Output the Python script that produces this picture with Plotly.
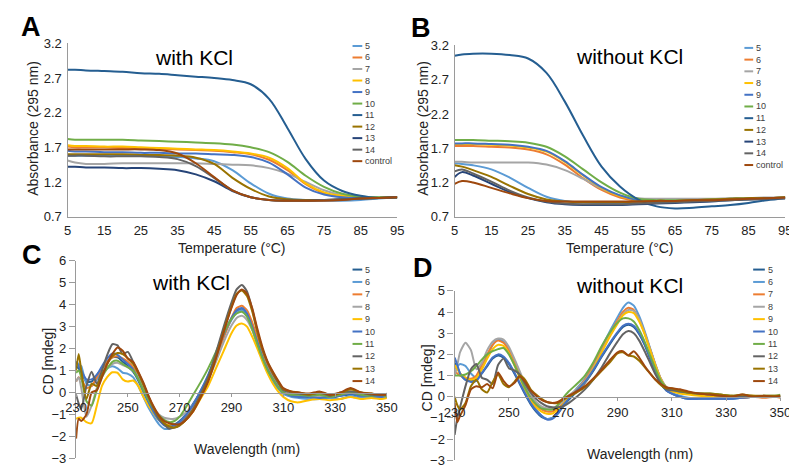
import plotly.graph_objects as go

# ---------------- DATA ----------------
temps = [5, 7, 10, 15, 20, 25, 30, 35, 40, 45, 50, 55, 60, 65, 70, 75, 80, 85, 90, 95]
melt_names = ["5", "6", "7", "8", "9", "10", "11", "12", "13", "14", "control"]
melt_colors = ["#5B9BD5", "#ED7D31", "#A5A5A5", "#FFC000", "#4472C4", "#70AD47",
               "#255E91", "#997300", "#264478", "#636363", "#9E480E"]

abs_with_kcl = {
    "5":  [1.58,1.58,1.58,1.58,1.58,1.58,1.57,1.56,1.54,1.50,1.37,1.18,1.03,0.96,0.94,0.93,0.93,0.94,0.96,0.98],
    "6":  [1.71,1.70,1.70,1.70,1.69,1.69,1.68,1.67,1.66,1.65,1.63,1.60,1.52,1.37,1.17,1.04,0.99,0.97,0.97,0.98],
    "7":  [1.51,1.48,1.46,1.46,1.47,1.47,1.47,1.47,1.47,1.46,1.45,1.44,1.40,1.32,1.20,1.08,1.01,0.98,0.98,0.98],
    "8":  [1.73,1.72,1.72,1.71,1.71,1.70,1.69,1.68,1.67,1.66,1.64,1.61,1.55,1.40,1.18,1.05,1.00,0.98,0.97,0.98],
    "9":  [1.65,1.64,1.64,1.63,1.63,1.62,1.62,1.61,1.61,1.60,1.59,1.56,1.48,1.31,1.12,1.02,0.98,0.97,0.97,0.98],
    "10": [1.82,1.81,1.81,1.81,1.81,1.80,1.79,1.78,1.77,1.76,1.74,1.70,1.63,1.49,1.29,1.13,1.03,0.99,0.98,0.98],
    "11": [2.82,2.82,2.81,2.80,2.79,2.77,2.76,2.74,2.72,2.70,2.67,2.61,2.40,1.98,1.53,1.22,1.07,1.00,0.97,0.98],
    "12": [1.60,1.60,1.60,1.60,1.60,1.59,1.59,1.58,1.55,1.46,1.26,1.10,0.99,0.95,0.94,0.94,0.95,0.96,0.97,0.98],
    "13": [1.42,1.42,1.41,1.41,1.40,1.40,1.39,1.37,1.31,1.21,1.07,0.98,0.94,0.93,0.93,0.94,0.95,0.96,0.97,0.98],
    "14": [1.58,1.58,1.58,1.57,1.57,1.57,1.56,1.53,1.43,1.26,1.08,0.98,0.94,0.93,0.93,0.94,0.95,0.96,0.97,0.98],
    "control": [1.67,1.67,1.67,1.67,1.67,1.67,1.66,1.61,1.47,1.27,1.08,0.98,0.94,0.93,0.93,0.93,0.94,0.96,0.97,0.98],
}

abs_without_kcl = {
    "5":  [1.48,1.47,1.45,1.39,1.27,1.12,0.99,0.93,0.91,0.90,0.90,0.91,0.92,0.93,0.94,0.95,0.96,0.97,0.97,0.98],
    "6":  [1.73,1.73,1.73,1.72,1.71,1.68,1.61,1.46,1.26,1.09,0.98,0.93,0.92,0.93,0.93,0.94,0.95,0.96,0.97,0.98],
    "7":  [1.50,1.50,1.49,1.49,1.49,1.49,1.46,1.38,1.25,1.11,1.01,0.97,0.96,0.96,0.96,0.96,0.97,0.97,0.98,0.98],
    "8":  [1.76,1.76,1.76,1.75,1.74,1.71,1.65,1.50,1.30,1.12,1.00,0.94,0.92,0.92,0.93,0.94,0.95,0.96,0.97,0.98],
    "9":  [1.77,1.77,1.77,1.76,1.75,1.72,1.66,1.51,1.31,1.13,1.01,0.94,0.92,0.92,0.93,0.94,0.95,0.96,0.97,0.98],
    "10": [1.82,1.82,1.82,1.81,1.80,1.78,1.72,1.58,1.39,1.20,1.05,0.96,0.94,0.94,0.94,0.95,0.96,0.97,0.97,0.98],
    "11": [3.05,3.07,3.08,3.08,3.06,3.01,2.80,2.38,1.88,1.43,1.14,0.95,0.85,0.82,0.83,0.85,0.87,0.90,0.94,0.97],
    "12": [1.45,1.43,1.38,1.28,1.15,1.03,0.95,0.92,0.91,0.91,0.91,0.92,0.93,0.93,0.94,0.95,0.96,0.97,0.97,0.98],
    "13": [1.28,1.35,1.30,1.18,1.06,0.97,0.91,0.88,0.87,0.87,0.87,0.88,0.89,0.90,0.91,0.92,0.94,0.95,0.96,0.97],
    "14": [1.36,1.39,1.33,1.21,1.08,0.98,0.92,0.89,0.88,0.88,0.88,0.89,0.90,0.91,0.92,0.93,0.94,0.95,0.96,0.97],
    "control": [1.18,1.22,1.20,1.12,1.04,0.97,0.93,0.92,0.92,0.92,0.92,0.92,0.93,0.93,0.94,0.94,0.95,0.96,0.97,0.98],
}

wavelengths = [230,231,232,234,236,238,240,242,244,246,248,250,252,254,256,258,260,262,264,266,
               268,270,272,275,278,281,284,287,290,292,294,296,298,300,302,304,306,308,310,313,
               316,320,324,328,332,336,340,344,348,350]
cd_names = ["5", "6", "7", "8", "9", "10", "11", "12", "13", "14"]
cd_colors = ["#255E91", "#5B9BD5", "#ED7D31", "#A5A5A5", "#FFC000", "#4472C4",
             "#70AD47", "#636363", "#997300", "#9E480E"]

cd_with_kcl = {
    "5":  [1.2,1.1,0.9,0.5,0.5,0.8,1.1,1.4,1.6,1.6,1.4,1.2,0.95,0.55,0.05,-0.45,-0.9,-1.25,-1.45,-1.5,
           -1.45,-1.3,-1.05,-0.55,0.05,0.75,1.65,2.6,3.35,3.7,3.8,3.55,2.95,2.25,1.55,1.0,0.55,0.2,-0.05,-0.15,
           -0.2,-0.25,-0.2,-0.25,-0.15,-0.1,-0.2,-0.15,-0.2,-0.2],
    "6":  [1.4,1.3,1.2,0.4,0.3,0.6,0.9,1.1,1.2,1.1,0.9,0.85,0.7,0.3,-0.2,-0.7,-1.1,-1.45,-1.65,-1.65,
           -1.55,-1.35,-1.1,-0.6,0.05,0.75,1.6,2.55,3.3,3.65,3.75,3.5,2.9,2.2,1.5,0.95,0.5,0.2,-0.05,-0.2,
           -0.25,-0.3,-0.3,-0.25,-0.3,-0.15,-0.25,-0.2,-0.25,-0.2],
    "7":  [0.5,0.7,0.6,0.2,0.3,0.7,1.1,1.4,1.6,1.65,1.55,1.4,1.15,0.75,0.25,-0.3,-0.8,-1.15,-1.4,-1.5,
           -1.5,-1.4,-1.2,-0.75,-0.1,0.6,1.5,2.5,3.4,3.85,3.95,3.75,3.2,2.5,1.8,1.2,0.75,0.4,0.1,-0.1,
           -0.1,-0.15,-0.1,-0.15,-0.05,0.05,-0.1,-0.1,-0.15,-0.1],
    "8":  [0.5,0.7,0.2,-1.1,-0.6,0.2,0.8,1.1,1.3,1.35,1.25,1.15,1.0,0.7,0.25,-0.25,-0.7,-1.0,-1.15,-1.2,
           -1.2,-1.1,-0.95,-0.6,-0.05,0.6,1.4,2.3,3.05,3.4,3.5,3.3,2.85,2.25,1.6,1.05,0.65,0.3,0.05,-0.1,
           -0.15,-0.15,-0.2,-0.2,-0.1,0.0,-0.15,-0.1,-0.2,-0.15],
    "9":  [-1.2,-1.15,-1.15,-1.35,-1.4,-0.6,0.3,0.7,0.92,0.9,0.6,0.5,0.55,0.3,-0.2,-0.6,-0.95,-1.25,-1.45,-1.5,
           -1.5,-1.45,-1.3,-0.9,-0.3,0.3,1.1,1.9,2.7,3.05,3.15,3.0,2.55,2.0,1.4,0.85,0.4,0.05,-0.2,-0.4,
           -0.45,-0.35,-0.3,-0.35,-0.3,-0.2,-0.3,-0.25,-0.3,-0.25],
    "10": [1.4,1.2,1.0,0.6,0.6,0.8,1.2,1.55,1.78,1.72,1.5,1.3,1.05,0.6,0.05,-0.45,-0.9,-1.25,-1.5,-1.55,
           -1.5,-1.35,-1.1,-0.6,0.05,0.8,1.7,2.65,3.4,3.75,3.85,3.6,3.0,2.3,1.6,1.05,0.6,0.25,0.0,-0.15,
           -0.2,-0.2,-0.25,-0.2,-0.15,-0.05,-0.15,-0.15,-0.2,-0.15],
    "11": [0.9,1.0,0.7,-0.4,-0.6,0.1,0.7,1.1,1.4,1.45,1.3,1.15,1.0,0.6,0.1,-0.35,-0.75,-1.05,-1.25,-1.35,
           -1.3,-1.1,-0.75,-0.15,0.45,1.1,1.85,2.7,3.35,3.6,3.68,3.45,2.9,2.2,1.55,1.0,0.6,0.25,0.0,-0.1,
           -0.1,-0.15,-0.1,-0.2,-0.1,0.0,-0.1,-0.15,-0.1,-0.2],
    "12": [-0.1,-0.5,-0.75,0.3,0.95,0.4,1.0,1.7,2.2,2.15,1.75,1.85,1.4,0.9,0.4,-0.2,-0.75,-1.2,-1.45,-1.65,
           -1.6,-1.5,-1.25,-0.8,-0.1,0.7,1.8,3.0,4.1,4.7,4.9,4.6,3.8,2.8,1.95,1.35,0.85,0.45,0.1,0.0,
           -0.05,-0.1,0.0,-0.15,0.0,0.05,0.0,-0.1,-0.1,-0.05],
    "13": [1.0,1.75,1.0,-0.3,0.4,0.3,0.8,1.3,1.65,1.8,1.75,1.55,1.3,0.9,0.35,-0.2,-0.7,-1.1,-1.4,-1.55,
           -1.6,-1.5,-1.3,-0.85,-0.2,0.55,1.6,2.8,3.9,4.5,4.65,4.4,3.7,2.75,1.95,1.35,0.9,0.5,0.15,0.05,
           0.0,-0.1,0.0,-0.1,-0.05,0.15,0.0,-0.05,-0.1,-0.1],
    "14": [-2.1,-1.2,-1.3,-1.0,0.0,0.1,0.7,1.3,1.75,2.05,1.9,1.55,1.4,0.95,0.45,-0.15,-0.65,-1.05,-1.3,-1.4,
           -1.45,-1.45,-1.3,-0.9,-0.25,0.5,1.55,2.75,3.85,4.45,4.7,4.5,3.85,2.9,2.05,1.4,0.95,0.55,0.2,0.05,
           0.0,-0.05,0.05,-0.1,0.0,0.2,0.0,-0.05,-0.1,-0.1],
}

cd_without_kcl = {
    "5":  [1.6,1.4,1.1,0.8,0.75,0.8,1.1,1.45,1.8,1.95,1.85,1.55,1.1,0.6,0.1,-0.35,-0.7,-0.95,-1.05,-1.0,
           -0.8,-0.45,-0.15,0.25,0.65,1.2,1.85,2.45,3.0,3.3,3.4,3.3,2.95,2.45,1.8,1.15,0.6,0.3,0.15,0.0,
           -0.1,-0.1,-0.1,-0.1,-0.1,-0.05,0.0,0.0,0.0,0.0],
    "6":  [1.3,1.45,1.55,1.45,1.1,0.9,1.3,1.9,2.45,2.7,2.6,2.2,1.6,1.0,0.4,-0.15,-0.6,-0.9,-1.05,-1.0,
           -0.75,-0.4,-0.05,0.4,0.85,1.5,2.3,3.05,3.75,4.2,4.45,4.3,3.8,3.1,2.3,1.5,0.8,0.4,0.2,0.05,
           -0.05,-0.1,-0.1,-0.05,-0.1,-0.05,0.0,0.0,0.0,0.05],
    "7":  [1.2,1.1,1.0,0.9,0.85,1.0,1.5,2.0,2.45,2.65,2.55,2.2,1.65,1.05,0.45,-0.05,-0.4,-0.6,-0.7,-0.7,
           -0.55,-0.3,0.0,0.35,0.8,1.45,2.2,2.95,3.6,4.0,4.2,4.1,3.65,3.0,2.25,1.5,0.85,0.45,0.3,0.2,
           0.15,0.1,0.05,0.0,0.05,-0.05,0.0,-0.05,0.0,-0.05],
    "8":  [1.0,1.5,2.1,2.55,2.2,1.3,1.6,2.2,2.6,2.75,2.7,2.35,1.8,1.2,0.6,0.1,-0.25,-0.45,-0.55,-0.55,
           -0.4,-0.2,0.05,0.35,0.75,1.35,2.1,2.85,3.5,3.9,4.1,4.05,3.65,3.0,2.25,1.5,0.85,0.45,0.3,0.2,
           0.15,0.1,0.05,0.05,0.0,0.0,0.0,0.0,0.0,0.0],
    "9":  [1.5,1.3,1.1,0.9,0.8,0.9,1.3,1.8,2.25,2.45,2.4,2.05,1.5,0.9,0.3,-0.2,-0.5,-0.7,-0.8,-0.8,
           -0.6,-0.35,-0.05,0.3,0.7,1.3,2.05,2.8,3.45,3.85,4.0,3.95,3.55,2.95,2.2,1.45,0.8,0.4,0.25,0.15,
           0.1,0.05,0.0,0.05,-0.05,0.0,0.05,0.0,0.0,0.05],
    "10": [1.85,1.5,1.1,0.8,0.7,0.75,1.1,1.5,1.85,2.0,1.9,1.6,1.15,0.65,0.15,-0.3,-0.65,-0.9,-1.08,-1.05,
           -0.8,-0.4,-0.1,0.3,0.7,1.25,1.9,2.5,3.05,3.35,3.45,3.35,3.0,2.5,1.85,1.2,0.65,0.3,0.15,0.0,
           -0.1,-0.1,-0.1,-0.1,-0.1,-0.05,0.0,0.0,0.0,0.0],
    "11": [1.0,1.0,1.0,1.05,1.2,1.45,1.75,2.0,2.15,2.25,2.3,2.0,1.5,0.95,0.4,-0.05,-0.35,-0.55,-0.6,-0.6,
           -0.4,-0.05,0.25,0.6,1.0,1.6,2.35,3.0,3.5,3.7,3.7,3.55,3.15,2.6,1.95,1.3,0.75,0.45,0.35,0.25,
           0.2,0.15,0.15,0.1,0.05,0.05,0.0,0.05,0.05,0.1],
    "12": [-1.8,-1.0,-0.5,0.5,1.3,1.55,0.9,0.8,0.6,1.5,1.8,1.35,1.25,1.05,0.6,0.2,-0.1,-0.3,-0.45,-0.5,
           -0.5,-0.45,-0.3,0.0,0.35,0.8,1.35,2.0,2.6,2.95,3.1,3.0,2.65,2.15,1.6,1.05,0.6,0.35,0.3,0.25,
           0.2,0.15,0.1,0.05,0.0,0.0,0.0,0.0,0.0,0.0],
    "13": [0.0,-0.4,-0.6,-0.3,0.5,0.8,0.35,0.2,0.7,1.05,0.6,0.45,0.7,1.0,0.8,0.35,0.1,-0.1,-0.25,-0.3,
           -0.3,-0.15,0.0,0.2,0.45,0.8,1.2,1.6,2.05,2.1,1.95,1.9,1.7,1.4,1.1,0.8,0.55,0.4,0.4,0.3,
           0.2,0.15,0.15,0.1,0.05,0.1,0.05,0.05,0.05,0.05],
    "14": [-0.3,-1.2,-0.9,-0.4,0.35,0.5,0.45,0.6,0.4,1.15,0.75,0.5,0.65,0.95,0.7,0.3,0.05,-0.15,-0.25,-0.3,
           -0.25,-0.1,0.05,0.25,0.5,0.85,1.25,1.7,2.1,2.15,1.95,2.15,1.85,1.45,1.1,0.8,0.6,0.45,0.4,0.35,
           0.25,0.15,0.1,0.05,0.0,0.1,0.0,0.05,0.0,0.05],
}

temp_ticks = [5, 15, 25, 35, 45, 55, 65, 75, 85, 95]
abs_ticks = [0.7, 1.2, 1.7, 2.2, 2.7, 3.2]
wl_ticks = [230, 250, 270, 290, 310, 330, 350]

# ---------------- FIGURE ----------------
W, H = 797, 468
FONT = "Liberation Sans, Arial, sans-serif"
AXC = "#9a9a9a"
TXT = "#222222"


def fx(p):
    return p / W


def fy(p):
    return 1 - p / H


fig = go.Figure()

panels = [
    (abs_with_kcl, temps, melt_names, melt_colors, "x", "y"),
    (abs_without_kcl, temps, melt_names, melt_colors, "x2", "y2"),
    (cd_with_kcl, wavelengths, cd_names, cd_colors, "x3", "y3"),
    (cd_without_kcl, wavelengths, cd_names, cd_colors, "x4", "y4"),
]
for data, xs, names, colors, xa, ya in panels:
    smooth = 1.0 if xa in ("x", "x2") else 0.6
    for name, col in zip(names, colors):
        fig.add_trace(go.Scatter(
            x=xs, y=data[name], name=name, mode="lines", xaxis=xa, yaxis=ya,
            line=dict(color=col, width=2, shape="spline", smoothing=smooth),
            showlegend=False, hoverinfo="skip"))

tickfont = dict(family=FONT, size=13, color=TXT)
ax_ab = dict(showline=True, linecolor=AXC, linewidth=1.3, showgrid=False,
             zeroline=False, ticks="outside", ticklen=2, tickcolor="rgba(0,0,0,0)",
             tickfont=tickfont)
ax_cd = dict(showline=True, linecolor=AXC, linewidth=1.3, showgrid=False,
             zeroline=False, ticks="outside", ticklen=3, tickcolor=AXC,
             tickfont=tickfont)
ay_cd = dict(ax_cd, ticklen=6)

fig.update_layout(
    width=W, height=H, margin=dict(l=0, r=0, t=0, b=0),
    paper_bgcolor="white", plot_bgcolor="white", showlegend=False,
    font=dict(family=FONT, color=TXT),
    xaxis=dict(domain=[fx(50), fx(389)], range=[5, 95], tickvals=temp_ticks,
               anchor="y", **ax_ab),
    yaxis=dict(domain=[fy(208.3), fy(29.3)], range=[0.7, 3.2], tickvals=abs_ticks,
               tickformat=".1f", anchor="x", **ax_ab),
    xaxis2=dict(domain=[fx(448), fx(788)], range=[5, 95], tickvals=temp_ticks,
                anchor="y2", **ax_ab),
    yaxis2=dict(domain=[fy(208.3), fy(31.5)], range=[0.7, 3.2], tickvals=abs_ticks,
                tickformat=".1f", anchor="x2", **ax_ab),
    xaxis3=dict(domain=[fx(58.7), fx(378.3)], range=[230, 350], tickvals=wl_ticks,
                anchor="free", position=fy(390), **ax_cd),
    yaxis3=dict(domain=[fy(458), fy(254)], range=[-3, 6], dtick=1, anchor="x3",
                **ay_cd),
    xaxis4=dict(domain=[fx(448), fx(783)], range=[230, 350], tickvals=wl_ticks,
                anchor="free", position=fy(394.6), **ax_cd),
    yaxis4=dict(domain=[fy(460), fy(285)], range=[-3, 5], dtick=1, anchor="x4",
                **ay_cd),
)

ann = []


def text(x, y, s, size, bold=False, angle=0, xanchor="center", color=TXT):
    ann.append(dict(x=fx(x), y=fy(y), xref="paper", yref="paper", text=("<b>%s</b>" % s) if bold else s,
                    showarrow=False, xanchor=xanchor, yanchor="middle", textangle=angle,
                    font=dict(family=FONT, size=size, color=color)))


# panel letters
text(12, 12, "A", 27, bold=True, color="black")
text(413, 13, "B", 27, bold=True, color="black")
text(13, 248, "C", 27, bold=True, color="black")
text(415, 261, "D", 27, bold=True, color="black")

# panel titles
text(180, 44, "with KCl", 21, color="black")
text(628, 43, "without KCl", 21, color="black")
text(177, 276, "with KCl", 21, color="black")
text(628, 279, "without KCl", 21, color="black")

# axis titles
text(15, 117, "Absorbance (295 nm)", 14, angle=-90)
text(416, 117, "Absorbance (295 nm)", 14, angle=-90)
text(219, 241, "Temperature (°C)", 14)
text(618, 241, "Temperature (°C)", 14)
text(29, 358, "CD [mdeg]", 14, angle=-90)
text(420, 375, "CD [mdeg]", 14, angle=-90)
text(234, 448, "Wavelength (nm)", 14)
text(639, 454, "Wavelength (nm)", 14)

# manual legends
shapes = []
legends = [
    (melt_names, melt_colors, 343, 353, 354, 32, 11.9),
    (melt_names, melt_colors, 746, 755, 756, 34, 12.1),
    (cd_names, cd_colors, 343, 353, 354, 263, 12.8),
    (cd_names, cd_colors, 755, 767, 768, 263, 12.8),
]
for names, colors, x0, x1, xt, y0, dy in legends:
    for i, (n, c) in enumerate(zip(names, colors)):
        yy = y0 + i * dy
        shapes.append(dict(type="line", xref="paper", yref="paper", x0=fx(x0), x1=fx(x1),
                           y0=fy(yy), y1=fy(yy), line=dict(color=c, width=2)))
        text(xt, yy, n, 9, xanchor="left", color="#404040")

fig.update_layout(annotations=ann, shapes=shapes)
fig.write_html("out.html")
